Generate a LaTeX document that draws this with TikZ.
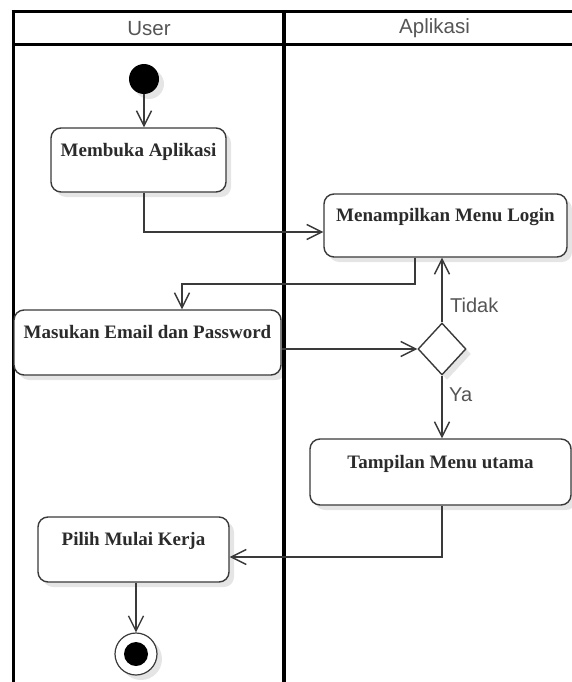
\documentclass[tikz,border=0pt]{standalone}
\usepackage{fontspec}
\setmainfont{Liberation Serif}
\newfontfamily\lanefont{Liberation Sans}
\usetikzlibrary{arrows.meta,shapes.geometric,shadows,calc}

\definecolor{ink}{HTML}{3A3A3A}
\definecolor{boxtext}{HTML}{2B2B2B}
\definecolor{lanetext}{HTML}{555555}

\tikzset{
  softshadow/.style={drop shadow={shadow xshift=5pt, shadow yshift=-5pt, opacity=0.10, fill=black}},
  act/.style={draw=ink, line width=1.4pt, rounded corners=10pt, fill=white,
    font=\fontsize{19}{22}\selectfont\bfseries, text=boxtext,
    text height=14pt, text depth=22pt, inner sep=0pt, softshadow},
  decision/.style={diamond, draw=ink, line width=1.4pt, fill=white, inner sep=0pt,
    minimum width=48pt, minimum height=52pt, softshadow},
  initial/.style={circle, fill=black, inner sep=0pt, minimum size=30pt, softshadow},
  final/.style={circle, draw=ink, line width=1.2pt, fill=white, inner sep=0pt, minimum size=42pt,
    softshadow, path picture={\fill[black] (path picture bounding box.center) circle (12pt);}},
  flow/.style={draw=ink, line width=1.4pt, -{Straight Barb[length=15pt,width=15pt,line width=1.4pt]}},
  lanehead/.style={font=\lanefont\fontsize{20.5}{24}\selectfont, text=lanetext, inner sep=0pt},
  guard/.style={font=\lanefont\fontsize{20}{24}\selectfont, text=lanetext, inner sep=0pt, anchor=west},
  laneline/.style={draw=black, line width=3pt},
}

\begin{document}
\begin{tikzpicture}[x=1pt, y=-1pt]
  \useasboundingbox (0,0) rectangle (572,682);

  % swimlanes
  \draw[laneline] (11.5,11.5) -- (572,11.5);
  \draw[laneline] (13,45) -- (572,45);
  \draw[laneline] (13,10) -- (13,682);
  \draw[laneline, line width=4pt] (284,10) -- (284,682);
  \node[lanehead] (userhead) at (149,28.5) {User};
  \node[lanehead] (apphead) at (434.5,28.5) {Aplikasi};

  % activities
  \node[initial] (start) at (144,79) {};
  \node[act, minimum width=175pt, minimum height=64pt] (open) at (138.5,160) {Membuka Aplikasi};
  \node[act, minimum width=243pt, minimum height=63pt] (login) at (445.5,225.5) {Menampilkan Menu Login};
  \node[act, minimum width=267pt, minimum height=65pt] (input) at (147.5,342.5) {Masukan Email dan Password};
  \node[decision] (dec) at (442,349) {};
  \node[act, minimum width=261pt, minimum height=66pt] (main) at (440.5,472) {Tampilan Menu utama};
  \node[act, minimum width=191pt, minimum height=65pt] (pick) at (133.5,549.5) {Pilih Mulai Kerja};
  \node[final] (endc) at (136,654) {};

  % bends
  \coordinate (bendA) at (415,284);
  \coordinate (bendB) at (182,284);

  % flows
  \draw[flow] (start) -- (start |- open.north);
  \draw[flow] (open.south -| start) |- ([yshift=-6.5pt]login.west);
  \draw[flow] (login.south -| bendA) -- (bendA) -- (bendB) -- (input.north -| bendB);
  \draw[flow] (input.east |- dec.west) -- (dec.west);
  \draw[flow] (dec.north) -- (dec.north |- login.south);
  \draw[flow] (dec.south) -- (dec.south |- main.north);
  \draw[flow] (main.south -| dec) |- ([yshift=-7.5pt]pick.east);
  \draw[flow] (pick.south -| endc) -- (endc);

  % guards
  \node[guard] (no) at (450,305) {Tidak};
  \node[guard] (yes) at (449,395) {Ya};
\end{tikzpicture}
\end{document}
